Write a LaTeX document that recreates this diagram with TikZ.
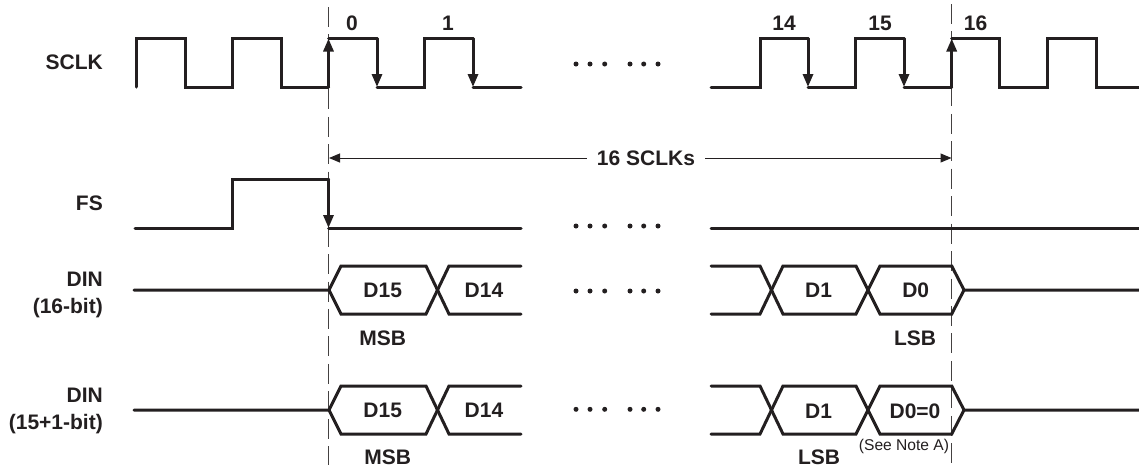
\documentclass[tikz,border=0pt]{standalone}
\usepackage{fontspec}
\setmainfont{Liberation Sans}
\usetikzlibrary{arrows.meta}
\definecolor{ink}{HTML}{231F20}
\tikzset{
  sig/.style={draw=ink,line width=3pt,line join=miter,line cap=round},
  edgeup/.style={sig,-{Triangle[length=13pt,width=10pt]}},
  guide/.style={draw=ink!85,line width=1pt,dash pattern=on 20pt off 7.45pt},
  lab/.style={font=\fontsize{21}{27}\selectfont\bfseries,text=ink,inner sep=0pt,align=center},
  rowlab/.style={lab,align=right,anchor=east},
  note/.style={font=\fontsize{15.6}{18}\selectfont,text=ink,inner sep=0pt},
  dotsym/.style={circle,fill=ink,inner sep=0pt,minimum size=5pt}
}
\begin{document}
\begin{tikzpicture}[x=1pt,y=-1pt]
\useasboundingbox (0,0) rectangle (1139,467);
\fill[white] (0,0) rectangle (1139,467);
% guides
\draw[guide] (328.5,7) -- (328.5,465);
\draw[guide] (951.7,4) -- (951.7,463);
% SCLK left
\draw[sig] (136,87) -- (136,38.5) -- (185,38.5) -- (185,87) -- (232.5,87) -- (232.5,38.5) -- (281,38.5) -- (281,87) -- (328.5,87);
\draw[edgeup] (328.5,87) -- (328.5,38.5);
\draw[sig] (328.5,38.5) -- (377,38.5);
\draw[edgeup] (377,38.5) -- (377,87);
\draw[sig] (377,87) -- (424.5,87) -- (424.5,38.5) -- (473,38.5);
\draw[edgeup] (473,38.5) -- (473,87);
\draw[sig] (473,87) -- (521,87);
% SCLK right
\draw[sig] (711,87) -- (760,87) -- (760,38.5) -- (808,38.5);
\draw[edgeup] (808,38.5) -- (808,87);
\draw[sig] (808,87) -- (855.5,87) -- (855.5,38.5) -- (904,38.5);
\draw[edgeup] (904,38.5) -- (904,87);
\draw[sig] (904,87) -- (951.7,87);
\draw[edgeup] (951.7,87) -- (951.7,38.5);
\draw[sig] (951.7,38.5) -- (999.7,38.5) -- (999.7,87) -- (1047,87) -- (1047,38.5) -- (1096,38.5) -- (1096,87) -- (1139,87);
% FS
\draw[sig] (135,228) -- (232,228) -- (232,179) -- (328.5,179);
\draw[edgeup] (328.5,179) -- (328.5,228);
\draw[sig] (328.5,228) -- (521,228);
\draw[sig] (711,228) -- (1139,228);
% DIN waveforms
\foreach \c in {290,410}{
  \draw[sig] (134,\c) -- (329,\c) -- (341,\c-24) -- (426,\c-24) -- (449,\c+24) -- (521,\c+24);
  \draw[sig] (329,\c) -- (341,\c+24) -- (426,\c+24) -- (449,\c-24) -- (521,\c-24);
  \draw[sig] (711,\c-24) -- (760,\c-24) -- (783,\c+24) -- (856,\c+24) -- (880,\c-24) -- (951.7,\c-24) -- (964,\c) -- (1139,\c);
  \draw[sig] (711,\c+24) -- (760,\c+24) -- (783,\c-24) -- (856,\c-24) -- (880,\c+24) -- (951.7,\c+24) -- (964,\c);
}
% span
\node[lab] (spanlab) at (646,158) {16 SCLKs};
\coordinate (spanL) at (329,158);
\coordinate (spanR) at (951.5,158);
\draw[draw=ink,line width=1pt,{Triangle[length=11pt,width=9pt]}-] (spanL) -- (587,158);
\draw[draw=ink,line width=1pt,-{Triangle[length=11pt,width=9pt]}] (705,158) -- (spanR);
% labels
\node[rowlab] (l0) at (103,62) {SCLK};
\node[rowlab] (l1) at (103,203) {FS};
\node[rowlab] (l2) at (103,294.5) {DIN\\(16-bit)};
\node[rowlab] (l3) at (103,410.5) {DIN\\(15+1-bit)};
\node[lab] (n0) at (352,23) {0};
\node[lab] (n1) at (448,23) {1};
\node[lab] (n14) at (784,23) {14};
\node[lab] (n15) at (880,23) {15};
\node[lab] (n16) at (975.5,23) {16};
\node[lab] (a1) at (382.7,290) {D15};
\node[lab] (a2) at (484,290) {D14};
\node[lab] (a3) at (818.5,290) {D1};
\node[lab] (a4) at (915.7,290) {D0};
\node[lab] (a5) at (382.7,338) {MSB};
\node[lab] (a6) at (915,338) {LSB};
\node[lab] (b1) at (382.7,410) {D15};
\node[lab] (b2) at (484,410) {D14};
\node[lab] (b3) at (818.5,411) {D1};
\node[lab] (b4) at (915,411) {D0=0};
\node[note] (b5) at (904,446) {(See Note A)};
\node[lab] (b6) at (387.7,457) {MSB};
\node[lab] (b7) at (819,457) {LSB};
% ellipses
\foreach \y/\n in {64/a,226/b,291/c,409.3/d}{
  \foreach \x in {576,590,604.7,630,643.7,658}{
    \node[dotsym] (dot\n\x) at (\x,\y) {};
  }
}
\end{tikzpicture}
\end{document}
